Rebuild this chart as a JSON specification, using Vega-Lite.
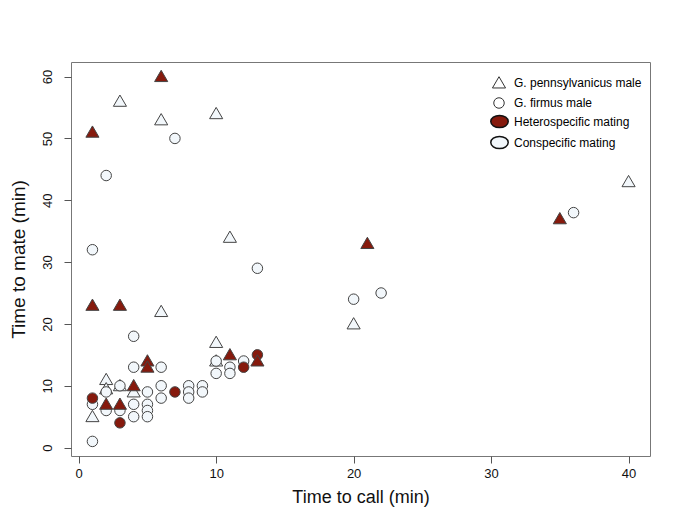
{
  "$schema": "https://vega.github.io/schema/vega-lite/v6.json",
  "width": 579,
  "height": 394,
  "autosize": "none",
  "padding": {"left": 71, "top": 62, "right": 35, "bottom": 73},
  "background": "white",
  "config": {
    "view": {"stroke": "#777", "strokeWidth": 1},
    "axis": {"grid": false, "domain": false, "tickColor": "#555", "tickSize": 7, "labelColor": "#111", "titleColor": "#111", "titleFontWeight": "normal"}
  },
  "data": {
    "values": [
      {"call": 3, "mate": 56, "species": "G. pennsylvanicus male", "mating": "Conspecific mating"},
      {"call": 6, "mate": 53, "species": "G. pennsylvanicus male", "mating": "Conspecific mating"},
      {"call": 10, "mate": 54, "species": "G. pennsylvanicus male", "mating": "Conspecific mating"},
      {"call": 11, "mate": 34, "species": "G. pennsylvanicus male", "mating": "Conspecific mating"},
      {"call": 6, "mate": 22, "species": "G. pennsylvanicus male", "mating": "Conspecific mating"},
      {"call": 20, "mate": 20, "species": "G. pennsylvanicus male", "mating": "Conspecific mating"},
      {"call": 40, "mate": 43, "species": "G. pennsylvanicus male", "mating": "Conspecific mating"},
      {"call": 10, "mate": 17, "species": "G. pennsylvanicus male", "mating": "Conspecific mating"},
      {"call": 10, "mate": 14, "species": "G. pennsylvanicus male", "mating": "Conspecific mating"},
      {"call": 2, "mate": 11, "species": "G. pennsylvanicus male", "mating": "Conspecific mating"},
      {"call": 2, "mate": 9.5, "species": "G. pennsylvanicus male", "mating": "Conspecific mating"},
      {"call": 3, "mate": 10, "species": "G. pennsylvanicus male", "mating": "Conspecific mating"},
      {"call": 4, "mate": 9, "species": "G. pennsylvanicus male", "mating": "Conspecific mating"},
      {"call": 1, "mate": 5, "species": "G. pennsylvanicus male", "mating": "Conspecific mating"},
      {"call": 1, "mate": 32, "species": "G. firmus male", "mating": "Conspecific mating"},
      {"call": 2, "mate": 44, "species": "G. firmus male", "mating": "Conspecific mating"},
      {"call": 7, "mate": 50, "species": "G. firmus male", "mating": "Conspecific mating"},
      {"call": 13, "mate": 29, "species": "G. firmus male", "mating": "Conspecific mating"},
      {"call": 20, "mate": 24, "species": "G. firmus male", "mating": "Conspecific mating"},
      {"call": 22, "mate": 25, "species": "G. firmus male", "mating": "Conspecific mating"},
      {"call": 36, "mate": 38, "species": "G. firmus male", "mating": "Conspecific mating"},
      {"call": 1, "mate": 1, "species": "G. firmus male", "mating": "Conspecific mating"},
      {"call": 1, "mate": 7, "species": "G. firmus male", "mating": "Conspecific mating"},
      {"call": 4, "mate": 18, "species": "G. firmus male", "mating": "Conspecific mating"},
      {"call": 4, "mate": 13, "species": "G. firmus male", "mating": "Conspecific mating"},
      {"call": 6, "mate": 13, "species": "G. firmus male", "mating": "Conspecific mating"},
      {"call": 2, "mate": 6, "species": "G. firmus male", "mating": "Conspecific mating"},
      {"call": 3, "mate": 6, "species": "G. firmus male", "mating": "Conspecific mating"},
      {"call": 2, "mate": 9, "species": "G. firmus male", "mating": "Conspecific mating"},
      {"call": 3, "mate": 10, "species": "G. firmus male", "mating": "Conspecific mating"},
      {"call": 5, "mate": 9, "species": "G. firmus male", "mating": "Conspecific mating"},
      {"call": 6, "mate": 10, "species": "G. firmus male", "mating": "Conspecific mating"},
      {"call": 6, "mate": 8, "species": "G. firmus male", "mating": "Conspecific mating"},
      {"call": 8, "mate": 10, "species": "G. firmus male", "mating": "Conspecific mating"},
      {"call": 8, "mate": 9, "species": "G. firmus male", "mating": "Conspecific mating"},
      {"call": 8, "mate": 8, "species": "G. firmus male", "mating": "Conspecific mating"},
      {"call": 9, "mate": 10, "species": "G. firmus male", "mating": "Conspecific mating"},
      {"call": 9, "mate": 9, "species": "G. firmus male", "mating": "Conspecific mating"},
      {"call": 4, "mate": 7, "species": "G. firmus male", "mating": "Conspecific mating"},
      {"call": 4, "mate": 5, "species": "G. firmus male", "mating": "Conspecific mating"},
      {"call": 5, "mate": 7, "species": "G. firmus male", "mating": "Conspecific mating"},
      {"call": 5, "mate": 6, "species": "G. firmus male", "mating": "Conspecific mating"},
      {"call": 5, "mate": 5, "species": "G. firmus male", "mating": "Conspecific mating"},
      {"call": 10, "mate": 14, "species": "G. firmus male", "mating": "Conspecific mating"},
      {"call": 10, "mate": 12, "species": "G. firmus male", "mating": "Conspecific mating"},
      {"call": 11, "mate": 13, "species": "G. firmus male", "mating": "Conspecific mating"},
      {"call": 11, "mate": 12, "species": "G. firmus male", "mating": "Conspecific mating"},
      {"call": 12, "mate": 14, "species": "G. firmus male", "mating": "Conspecific mating"},
      {"call": 1, "mate": 8, "species": "G. firmus male", "mating": "Heterospecific mating"},
      {"call": 3, "mate": 4, "species": "G. firmus male", "mating": "Heterospecific mating"},
      {"call": 7, "mate": 9, "species": "G. firmus male", "mating": "Heterospecific mating"},
      {"call": 12, "mate": 13, "species": "G. firmus male", "mating": "Heterospecific mating"},
      {"call": 13, "mate": 15, "species": "G. firmus male", "mating": "Heterospecific mating"},
      {"call": 6, "mate": 60, "species": "G. pennsylvanicus male", "mating": "Heterospecific mating"},
      {"call": 1, "mate": 51, "species": "G. pennsylvanicus male", "mating": "Heterospecific mating"},
      {"call": 1, "mate": 23, "species": "G. pennsylvanicus male", "mating": "Heterospecific mating"},
      {"call": 3, "mate": 23, "species": "G. pennsylvanicus male", "mating": "Heterospecific mating"},
      {"call": 21, "mate": 33, "species": "G. pennsylvanicus male", "mating": "Heterospecific mating"},
      {"call": 35, "mate": 37, "species": "G. pennsylvanicus male", "mating": "Heterospecific mating"},
      {"call": 5, "mate": 14, "species": "G. pennsylvanicus male", "mating": "Heterospecific mating"},
      {"call": 5, "mate": 13, "species": "G. pennsylvanicus male", "mating": "Heterospecific mating"},
      {"call": 4, "mate": 10, "species": "G. pennsylvanicus male", "mating": "Heterospecific mating"},
      {"call": 2, "mate": 7, "species": "G. pennsylvanicus male", "mating": "Heterospecific mating"},
      {"call": 3, "mate": 7, "species": "G. pennsylvanicus male", "mating": "Heterospecific mating"},
      {"call": 11, "mate": 15, "species": "G. pennsylvanicus male", "mating": "Heterospecific mating"},
      {"call": 13, "mate": 14, "species": "G. pennsylvanicus male", "mating": "Heterospecific mating"}
    ]
  },
  "mark": {"type": "point", "filled": true, "stroke": "#444", "strokeWidth": 1, "opacity": 1, "size": 110},
  "encoding": {
    "x": {
      "field": "call", "type": "quantitative",
      "scale": {"domain": [-0.56, 41.56], "nice": false, "zero": false},
      "axis": {"values": [0, 10, 20, 30, 40], "title": "Time to call (min)", "labelFont": "Liberation Sans", "labelFontSize": 13, "labelPadding": 4, "titleFont": "Liberation Sans", "titleFontSize": 18, "titlePadding": 8}
    },
    "y": {
      "field": "mate", "type": "quantitative",
      "scale": {"domain": [-1.36, 62.36], "nice": false, "zero": false},
      "axis": {"values": [0, 10, 20, 30, 40, 50, 60], "title": "Time to mate (min)", "labelAngle": -90, "labelAlign": "center", "labelBaseline": "bottom", "labelFont": "Liberation Sans", "labelFontSize": 13, "labelPadding": 10, "titleFont": "Liberation Sans", "titleFontSize": 19, "titlePadding": 13}
    },
    "shape": {
      "field": "species", "type": "nominal",
      "scale": {"domain": ["G. pennsylvanicus male", "G. firmus male"], "range": ["M0,-1.2L1.25,0.95L-1.25,0.95Z", "circle"]},
      "legend": {"title": null, "orient": "none", "legendX": 422, "legendY": 15, "padding": 0, "labelFont": "Liberation Sans", "labelFontSize": 12, "symbolFillColor": "white", "symbolStrokeColor": "#333", "symbolStrokeWidth": 1, "symbolSize": 110, "rowPadding": 5, "labelOffset": 9}
    },
    "fill": {
      "field": "mating", "type": "nominal",
      "scale": {"domain": ["Heterospecific mating", "Conspecific mating"], "range": ["#861a0d", "#f2f7fb"]},
      "legend": {"title": null, "orient": "none", "legendX": 421, "legendY": 52, "padding": 0, "labelFont": "Liberation Sans", "labelFontSize": 12, "symbolType": "M-1.3,0A1.3,0.9 0 1,0 1.3,0A1.3,0.9 0 1,0 -1.3,0Z", "symbolStrokeColor": "#111", "symbolStrokeWidth": 1.5, "symbolSize": 180, "rowPadding": 2, "labelOffset": 7}
    }
  }
}
